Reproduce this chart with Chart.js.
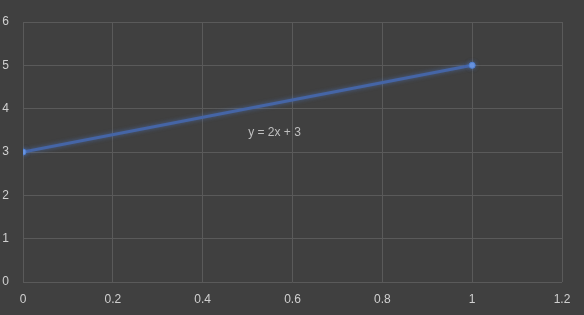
<!DOCTYPE html>
<html><head><meta charset="utf-8">
<script src="https://cdn.jsdelivr.net/npm/chart.js@4"></script>
<style>html,body{margin:0;padding:0;background:#404040;}#wrap{width:584px;height:315px;}</style>
</head><body><div id="wrap"><canvas id="c" width="584" height="315"></canvas></div>
<script>
const xValues = [0, 1];
const yValues = [3, 5];
const xTicks = [0, 0.2, 0.4, 0.6, 0.8, 1, 1.2];
const yTicks = [0, 1, 2, 3, 4, 5, 6];
const trendLabel = 'y = 2x + 3';
const trendLabelPos = [0.56, 3.44];

const labelPlugin = {
  id: 'trendLabel',
  afterDatasetsDraw(chart) {
    const {ctx, scales} = chart;
    ctx.save();
    ctx.font = '12px "Liberation Sans", Arial, sans-serif';
    ctx.fillStyle = '#bfbfbf';
    ctx.textAlign = 'center';
    ctx.textBaseline = 'middle';
    ctx.fillText(trendLabel, scales.x.getPixelForValue(trendLabelPos[0]), scales.y.getPixelForValue(trendLabelPos[1]));
    ctx.restore();
  }
};
const bgPlugin = {
  id: 'bg',
  beforeDraw(chart) {
    const ctx = chart.ctx;
    ctx.save(); ctx.fillStyle = '#404040'; ctx.fillRect(0,0,chart.width,chart.height); ctx.restore();
  }
};
const glowPlugin = {
  id: 'glow',
  beforeDatasetsDraw(chart){ chart.ctx.save(); chart.ctx.shadowColor='rgba(80,125,210,0.55)'; chart.ctx.shadowBlur=4; },
  afterDatasetsDraw(chart){ chart.ctx.restore(); }
};

new Chart(document.getElementById('c'), {
  type: 'scatter',
  data: { datasets: [{
    data: xValues.map((x,i)=>({x, y: yValues[i]})),
    showLine: true,
    borderColor: '#4565a6',
    borderWidth: 3,
    pointRadius: 3,
    pointBackgroundColor: '#6b95e0',
    pointBorderColor: '#4f7fd0',
    pointBorderWidth: 1
  }]},
  options: {
    responsive: false,
    animation: false,
    layout: { padding: { top: 22, right: 22, left: 0, bottom: 0 } },
    plugins: { legend: { display: false }, tooltip: { enabled: false } },
    scales: {
      x: {
        type: 'linear', min: 0, max: 1.2,
        afterBuildTicks(s){ s.ticks = xTicks.map(v=>({value:v})); },
        afterFit(s){ s.height = 33; },
        grid: { color: '#5a5a5a', lineWidth: 1, drawTicks: false },
        border: { display: false },
        ticks: { color: '#d0d0d0', padding: 10, font: { family: '"Liberation Sans", Arial, sans-serif', size: 12 }, callback: v => String(v), maxRotation: 0 }
      },
      y: {
        type: 'linear', min: 0, max: 6,
        afterBuildTicks(s){ s.ticks = yTicks.map(v=>({value:v})); },
        afterFit(s){ s.width = 23; },
        grid: { color: '#5a5a5a', lineWidth: 1, drawTicks: false },
        border: { display: false },
        ticks: { color: '#d0d0d0', padding: 14, font: { family: '"Liberation Sans", Arial, sans-serif', size: 12 }, callback: v => String(v) }
      }
    }
  },
  plugins: [bgPlugin, glowPlugin, labelPlugin]
});
</script></body></html>
